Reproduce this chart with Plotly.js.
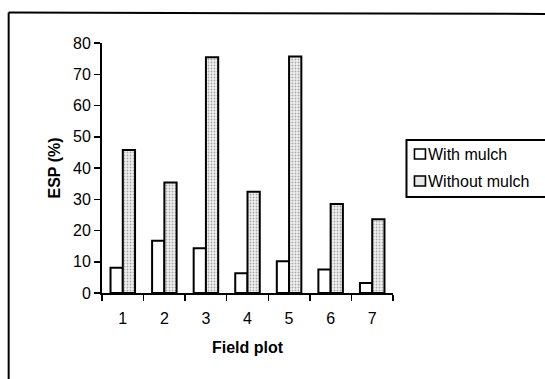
<!DOCTYPE html>
<html>
<head>
<meta charset="utf-8">
<script src="https://cdn.plot.ly/plotly-3.0.1.min.js"></script>
<style>
  html, body { margin: 0; padding: 0; background: #fff; }
  #chart { width: 545px; height: 379px; }
</style>
</head>
<body>
<div id="chart"></div>
<script>
// ESP (%) per field plot, with and without mulch
const fieldPlots = ['1', '2', '3', '4', '5', '6', '7'];
const withMulch = [8.1, 16.7, 14.3, 6.3, 10.2, 7.5, 3.2];
const withoutMulch = [45.8, 35.4, 75.4, 32.4, 75.7, 28.5, 23.6];
const seriesNames = ['With mulch', 'Without mulch'];
const yTicks = [0, 10, 20, 30, 40, 50, 60, 70, 80];

// plot area in page pixels
const M = { l: 102, r: 151.5, t: 43, b: 86 };
const W = 545, H = 379;
const pw = W - M.l - M.r, ph = H - M.t - M.b;
const px = x => (x - M.l) / pw;          // page x -> paper x
const py = y => (H - M.b - y) / ph;      // page y -> paper y

const font = 'Liberation Sans, Arial, sans-serif';
const dots = { shape: '.', fgcolor: '#a8a8a8', bgcolor: '#f2f2f2', size: 3, solidity: 0.3 };

const traces = [
  {
    type: 'bar', name: seriesNames[0], x: fieldPlots, y: withMulch,
    marker: { color: '#ffffff', line: { color: '#000', width: 2 } },
    showlegend: false, hoverinfo: 'skip'
  },
  {
    type: 'bar', name: seriesNames[1], x: fieldPlots, y: withoutMulch,
    marker: { color: '#f2f2f2', pattern: dots, line: { color: '#000', width: 2 } },
    showlegend: false, hoverinfo: 'skip'
  }
];

// hand-built legend box at the right of the plot
const legLeft = 407, legTop = 140, legBottom = 197;
const rows = [154, 181];
const shapes = [
  // outer frame (left and top edges)
  { type: 'line', xref: 'paper', yref: 'paper', x0: px(8.5), x1: px(8.5), y0: py(12.5), y1: py(400),
    line: { color: '#000', width: 2 } },
  { type: 'line', xref: 'paper', yref: 'paper', x0: px(8.5), x1: px(560), y0: py(12.5), y1: py(14),
    line: { color: '#000', width: 2 } },
  // legend frame
  { type: 'rect', xref: 'paper', yref: 'paper', x0: px(legLeft), x1: px(560), y0: py(legTop), y1: py(legBottom),
    line: { color: '#000', width: 2 }, fillcolor: 'rgba(0,0,0,0)' }
];
const annotations = [];
seriesNames.forEach((name, i) => {
  const yc = rows[i];
  shapes.push({
    type: 'rect', xref: 'paper', yref: 'paper',
    x0: px(415), x1: px(426), y0: py(yc - 5), y1: py(yc + 5),
    line: { color: '#000', width: 1.6 }, fillcolor: i === 0 ? '#ffffff' : '#e8e8e8'
  });
  annotations.push({
    xref: 'paper', yref: 'paper', x: px(427), y: py(yc), xanchor: 'left', yanchor: 'middle',
    text: name, showarrow: false, font: { family: font, size: 16, color: '#000' }
  });
});

const layout = {
  width: W, height: H,
  margin: M,
  paper_bgcolor: '#fff', plot_bgcolor: '#fff',
  barmode: 'group', bargap: 0.41, bargroupgap: 0,
  font: { family: font, size: 16, color: '#000' },
  xaxis: {
    type: 'category', range: [-0.5, 6.5],
    showline: true, linecolor: '#000', linewidth: 2,
    ticks: 'outside', tickson: 'boundaries', ticklen: 6, tickwidth: 1.5, tickcolor: '#000',
    ticklabelstandoff: 10,
    showgrid: false, zeroline: false,
    tickfont: { family: font, size: 16 },
    title: { text: 'Field plot', font: { family: font, size: 16, weight: 'bold' }, standoff: 16 }
  },
  yaxis: {
    range: [0, 80], tickvals: yTicks, ticktext: yTicks.map(String),
    showline: true, linecolor: '#000', linewidth: 2,
    ticks: 'outside', ticklen: 6, tickwidth: 1.5, tickcolor: '#000',
    showgrid: false, zeroline: false,
    tickfont: { family: font, size: 16 },
    title: { text: 'ESP (%)', font: { family: font, size: 16, weight: 'bold' }, standoff: 8 }
  },
  shapes: shapes,
  annotations: annotations,
  showlegend: false
};

Plotly.newPlot('chart', traces, layout, { staticPlot: true, displayModeBar: false });
</script>
</body>
</html>
